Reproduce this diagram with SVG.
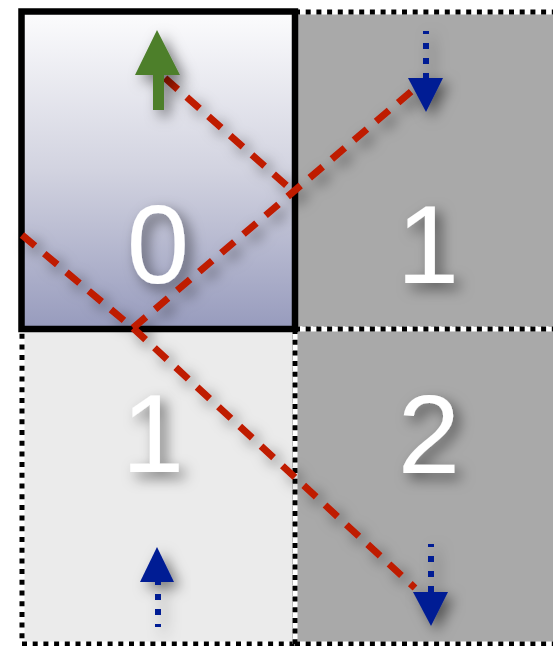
<svg xmlns="http://www.w3.org/2000/svg" width="553" height="646" viewBox="0 0 553 646">
<style>
.num{font-family:"Liberation Sans",Arial,sans-serif;font-size:112px;fill:#ffffff;text-anchor:middle}
.dotw{fill:none;stroke:#ffffff;stroke-width:5}
.dotb{fill:none;stroke:#000000;stroke-width:5;stroke-dasharray:5 5.7}
.red{fill:none;stroke:#bf1a00;stroke-width:7;stroke-dasharray:17 12}
.blue{fill:#001c94}
.bshaft{fill:none;stroke:#001c94;stroke-width:6;stroke-dasharray:6 9}
</style>
<defs>
<linearGradient id="g0" x1="0" y1="0" x2="0" y2="1">
<stop offset="0" stop-color="#fcfcfd"/>
<stop offset="0.5" stop-color="#d2d3e0"/>
<stop offset="1" stop-color="#979bbd"/>
</linearGradient>
<filter id="sh" x="-50%" y="-50%" width="200%" height="200%">
<feDropShadow dx="6" dy="6" stdDeviation="7" flood-color="#000" flood-opacity="0.5"/>
</filter>
</defs>
<rect width="553" height="646" fill="#ffffff"/>
<g id="cell-1-top">
<rect x="295" y="12" width="265" height="317" fill="#a9a9a9"/>
<rect class="dotw" x="295" y="12" width="265" height="317"/>
<rect class="dotb" x="295" y="12" width="265" height="317"/>
<text class="num" x="428" y="283" filter="url(#sh)">1</text>
</g>
<g id="cell-1-bottom">
<rect x="22" y="329" width="273" height="315" fill="#ebebeb"/>
<rect class="dotw" x="22" y="329" width="273" height="315"/>
<rect class="dotb" x="22" y="329" width="273" height="315"/>
<text class="num" x="153" y="472" filter="url(#sh)">1</text>
</g>
<g id="cell-2">
<rect x="295" y="329" width="265" height="315" fill="#a9a9a9"/>
<path class="dotw" d="M295 329H560M295 644H560M295 329V644"/>
<path class="dotb" d="M295 329H560M295 644H560M295 329V644"/>
<text class="num" x="429" y="473" filter="url(#sh)">2</text>
</g>
<g id="cell-0">
<rect x="21.5" y="11.5" width="273.5" height="317.5" fill="url(#g0)" stroke="#000" stroke-width="6.5"/>
<text class="num" x="158" y="283" filter="url(#sh)">0</text>
</g>
<g id="connectors" filter="url(#sh)">
<path class="red" d="M22 235L133 328L415 588"/>
<path class="red" d="M133 328L413 90"/>
<path class="red" d="M165 78L294 192"/>
</g>
<g id="arrows">
<polygon filter="url(#sh)" fill="#4d7f2c" points="157,30 135,75 153,75 153,110 164,110 164,75 180,75"/>
<g filter="url(#sh)">
<path class="bshaft" d="M426 31V80" stroke-dashoffset="3"/>
<polygon class="blue" points="426,112 408,78 443,78"/>
</g>
<g filter="url(#sh)">
<path class="bshaft" d="M158 627V580" stroke-dashoffset="3"/>
<polygon class="blue" points="157,547 140,582 174,582"/>
</g>
<g filter="url(#sh)">
<path class="bshaft" d="M431 544V594" stroke-dashoffset="3"/>
<polygon class="blue" points="431,626 413,592 448,592"/>
</g>
</g>
</svg>
